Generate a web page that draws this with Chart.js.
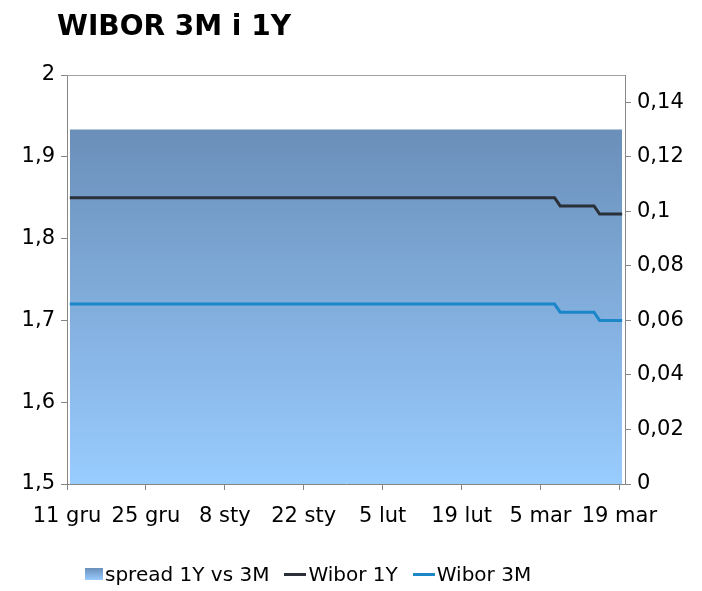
<!DOCTYPE html>
<html>
<head>
<meta charset="utf-8">
<script src="https://cdn.jsdelivr.net/npm/chart.js@4/dist/chart.umd.min.js"></script>
<style>
  body { margin: 0; background: #fff; font-family: "DejaVu Sans", Verdana, sans-serif; }
  #wrap { position: relative; width: 702px; height: 591px; }
  #chart { position: absolute; left: 0; top: 0; }
  #title { position: absolute; left: 57px; top: 12px; font-size: 28px; font-weight: bold; line-height: 1; color: #000; }
  #legend { position: absolute; left: 85px; top: 562px; height: 24px; display: flex; align-items: center; font-size: 20px; line-height: 24px; color: #000; }
  .box { width: 18px; height: 12px; margin-right: 2px; background: linear-gradient(#6a8fb9, #99ccff); }
  .dash { width: 22px; height: 3px; margin-left: 15px; margin-right: 2px; }
</style>
</head>
<body>
<div id="wrap">
  <canvas id="chart" width="702" height="591"></canvas>
  <div id="title">WIBOR 3M i 1Y</div>
  <div id="legend">
    <span class="box"></span><span>spread 1Y vs 3M</span>
    <span class="dash" style="background:#2b3038"></span><span>Wibor 1Y</span>
    <span class="dash" style="background:#1b86c8"></span><span>Wibor 3M</span>
  </div>
</div>
<script>
// ---- Data (days counted from 11 gru) ----
const pointDays = [0, 86, 87, 93, 94, 98];
const wibor1Y = [1.85, 1.85, 1.84, 1.84, 1.83, 1.83];
const wibor3M = [1.72, 1.72, 1.71, 1.71, 1.70, 1.70];
const spread = [0.13, 0.13, 0.13, 0.13, 0.13, 0.13];

const tickDays = [0, 14, 28, 42, 56, 70, 84, 98];
const tickLabels = ["11 gru", "25 gru", "8 sty", "22 sty", "5 lut", "19 lut", "5 mar", "19 mar"];
const leftTicks = [1.5, 1.6, 1.7, 1.8, 1.9, 2];
const rightTicks = [0, 0.02, 0.04, 0.06, 0.08, 0.1, 0.12, 0.14];

const AXIS = "#868686";
const FONT = { family: '"DejaVu Sans", Verdana, sans-serif', size: 21 };

// points sit in the middle of each day slot
const toPoints = (vals) => vals.map((v, i) => ({ x: pointDays[i] + 0.5, y: v }));
const commaFmt = (v) => String(v).replace(".", ",");

function spreadGradient(ctx) {
  const chart = ctx.chart;
  if (!chart.chartArea) return "#82acd8";
  const top = chart.scales.y2.getPixelForValue(Math.max(...spread));
  const g = chart.ctx.createLinearGradient(0, top, 0, chart.chartArea.bottom);
  g.addColorStop(0, "#6a8fb9");
  g.addColorStop(1, "#99ccff");
  return g;
}

const plotBorder = {
  id: "plotBorder",
  beforeDatasetsDraw(chart) {
    const { ctx, chartArea } = chart;
    ctx.save();
    ctx.strokeStyle = "#a0a0a0";
    ctx.lineWidth = 1;
    ctx.beginPath();
    ctx.moveTo(chartArea.left, chartArea.top + 0.5);
    ctx.lineTo(chartArea.right, chartArea.top + 0.5);
    ctx.stroke();
    ctx.restore();
  },
};

new Chart(document.getElementById("chart"), {
  type: "line",
  data: {
    datasets: [
      { label: "Wibor 1Y", data: toPoints(wibor1Y), yAxisID: "y", borderColor: "#2b3038", borderWidth: 3, pointRadius: 0, tension: 0, order: 1 },
      { label: "Wibor 3M", data: toPoints(wibor3M), yAxisID: "y", borderColor: "#1b86c8", borderWidth: 3, pointRadius: 0, tension: 0, order: 2 },
      { label: "spread 1Y vs 3M", data: toPoints(spread), yAxisID: "y2", borderWidth: 0, pointRadius: 0, fill: "origin", backgroundColor: spreadGradient, order: 3 },
    ],
  },
  options: {
    responsive: false,
    animation: false,
    layout: { padding: { top: 75, bottom: 57, left: 0, right: 0 } },
    plugins: { legend: { display: false }, title: { display: false }, tooltip: { enabled: false } },
    scales: {
      x: {
        type: "linear",
        min: 0,
        max: 99,
        afterBuildTicks: (s) => { s.ticks = tickDays.map((v) => ({ value: v })); },
        afterFit: (s) => { s.height = 50; },
        ticks: { autoSkip: false, maxRotation: 0, font: FONT, color: "#000", padding: 14, callback: (v, i) => tickLabels[i] },
        grid: { drawOnChartArea: false, tickLength: 6, color: AXIS },
        border: { color: AXIS },
      },
      y: {
        position: "left",
        min: 1.5,
        max: 2,
        afterBuildTicks: (s) => { s.ticks = leftTicks.map((v) => ({ value: v })); },
        afterFit: (s) => { s.width = 67; },
        ticks: { font: FONT, color: "#000", padding: 6, callback: commaFmt },
        grid: { drawOnChartArea: false, tickLength: 6, color: AXIS },
        border: { color: AXIS },
      },
      y2: {
        position: "right",
        min: 0,
        max: 0.15,
        afterBuildTicks: (s) => { s.ticks = rightTicks.map((v) => ({ value: v })); },
        afterFit: (s) => { s.width = 77; },
        ticks: { font: FONT, color: "#000", padding: 6, callback: commaFmt },
        grid: { drawOnChartArea: false, tickLength: 6, color: AXIS },
        border: { color: AXIS },
      },
    },
  },
  plugins: [plotBorder],
});
</script>
</body>
</html>
